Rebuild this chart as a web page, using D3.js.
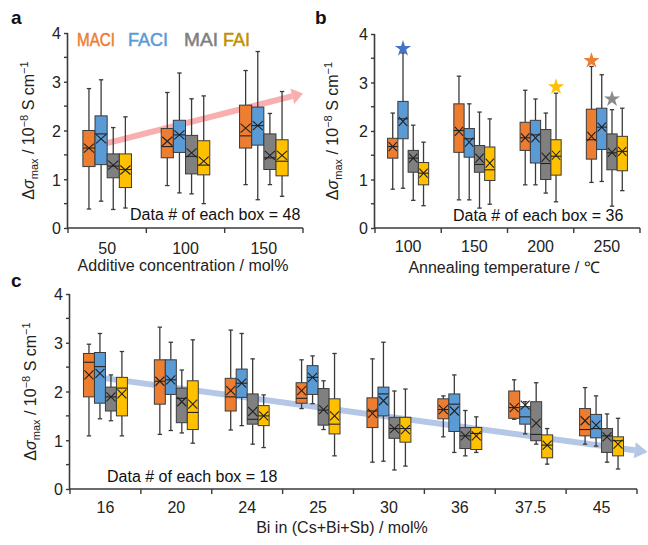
<!DOCTYPE html>
<html><head><meta charset="utf-8">
<script src="https://cdn.jsdelivr.net/npm/d3@7"></script>
<style>
html,body{margin:0;padding:0;background:#fff;}
svg{display:block;font-family:"Liberation Sans",Arial,sans-serif;}
</style></head>
<body>
<svg id="chart" width="648" height="545"></svg>
<script>
// ---------------- DATA ----------------
const seriesNames = ["MACI", "FACI", "MAI", "FAI"];
// each entry: [min, q1, median, q3, max, mean]
const catsA = ["50", "100", "150"];
const a_MACI = [[0.39,1.26,1.64,2.00,2.86,1.64],[0.87,1.44,1.67,2.04,2.78,1.78],[0.89,1.64,1.89,2.52,3.23,2.05]];
const a_FACI = [[0.55,1.30,1.93,2.30,3.04,1.83],[0.72,1.55,1.91,2.21,3.18,1.91],[0.58,1.70,2.10,2.48,3.62,2.10]];
const a_MAI  = [[0.38,1.03,1.27,1.52,2.06,1.29],[0.70,1.11,1.47,1.90,2.65,1.54],[0.89,1.20,1.44,1.93,2.35,1.49]];
const a_FAI  = [[0.41,0.83,1.20,1.52,2.28,1.19],[0.50,1.09,1.29,1.79,2.71,1.37],[0.65,1.07,1.37,1.81,2.80,1.49]];

const catsB = ["100", "150", "200", "250"];
const b_MACI = [[0.80,1.44,1.68,1.85,2.37,1.68],[0.58,1.56,2.01,2.56,3.13,1.99],[0.89,1.60,1.86,2.18,2.84,1.86],[0.94,1.42,1.82,2.45,3.33,1.89]];
const b_FACI = [[0.82,1.84,2.25,2.61,3.61,2.20],[0.58,1.46,1.84,2.05,2.56,1.77],[0.89,1.34,1.92,2.22,2.66,1.86],[0.96,1.62,2.08,2.47,3.16,2.08]];
const b_MAI  = [[0.57,1.15,1.44,1.60,2.12,1.44],[0.41,1.15,1.31,1.70,2.39,1.44],[0.72,1.00,1.33,2.03,2.37,1.46],[0.45,1.20,1.55,1.94,2.44,1.56]];
const b_FAI  = [[0.46,0.89,1.13,1.35,1.77,1.13],[0.49,0.98,1.20,1.67,2.25,1.34],[0.54,1.09,1.48,1.82,2.78,1.50],[0.77,1.18,1.58,1.89,2.47,1.58]];
// stars in panel b: [category index, series index, value]
const b_stars = [[0,1,3.72],[3,0,3.47],[2,3,2.93],[3,2,2.68]];

const catsC = ["16", "20", "24", "25", "30", "36", "37.5", "45"];
const c_MACI = [[1.09,1.89,2.60,2.78,2.97,2.34],[1.12,1.74,2.21,2.65,3.32,2.21],[1.21,1.60,1.89,2.27,3.26,2.02],[1.65,1.76,1.86,2.18,2.65,2.02],[0.55,1.26,1.60,1.87,2.67,1.55],[1.07,1.44,1.63,1.85,1.91,1.63],[1.43,1.45,1.67,2.01,2.24,1.67],[0.92,1.09,1.22,1.65,2.08,1.40]];
const c_FACI = [[1.44,1.76,2.51,2.80,3.19,2.37],[1.20,1.94,2.24,2.65,3.01,2.24],[1.30,1.88,2.17,2.46,3.19,2.17],[1.75,1.94,2.29,2.53,2.73,2.29],[0.57,1.50,1.95,2.09,3.01,1.81],[0.75,1.18,1.74,1.95,2.34,1.60],[1.13,1.33,1.48,1.69,1.79,1.72],[0.88,1.05,1.24,1.53,1.91,1.31]];
const c_MAI  = [[1.40,1.60,1.89,2.09,2.34,1.89],[1.15,1.36,1.86,2.07,2.44,1.79],[0.92,1.33,1.43,1.95,2.67,1.59],[1.22,1.31,1.62,2.06,2.22,1.63],[0.39,1.04,1.24,1.47,2.01,1.24],[0.68,0.83,1.09,1.26,1.61,1.09],[0.92,0.99,1.12,1.79,2.18,1.35],[0.55,0.75,1.09,1.24,1.54,1.07]];
const c_FAI  = [[1.09,1.50,2.07,2.29,2.82,1.95],[0.94,1.22,1.57,2.22,3.06,1.74],[0.85,1.30,1.50,1.71,1.93,1.50],[0.68,1.13,1.33,1.85,2.78,1.50],[0.47,0.96,1.24,1.47,2.05,1.22],[0.75,0.81,1.14,1.26,1.48,1.09],[0.51,0.64,0.90,1.11,1.24,0.90],[0.41,0.68,0.99,1.07,1.45,0.92]];

const yTicks = [0, 1, 2, 3, 4];
// trend arrows: [xStart (in category units), yStart, xEnd, yEnd]
const arrowA = [0.45, 1.72, 3.0, 2.76];
const arrowC = [0.46, 2.28, 8.15, 0.76];

// ---------------- STYLE ----------------
const fillColors = ["#ed7d31", "#5b9bd5", "#808080", "#ffc000"];
const legendColors = ["#ed7d31", "#5b9bd5", "#7f7f7f", "#bf9000"];
const starColors = ["#ed7d31", "#4472c4", "#8a8a8a", "#ffc000"];
const ink = "#3a3a3a";

const svg = d3.select("#chart");

function panel(cfg) {
  const g = svg.append("g");
  const n = cfg.cats.length;
  const x = d3.scaleBand().domain(cfg.cats).range([cfg.left, cfg.right]).padding(0);
  const xc = d3.scaleLinear().domain([0, n]).range([cfg.left, cfg.right]);
  const y = d3.scaleLinear().domain([0, 4]).range([cfg.bottom, cfg.top]);
  const bw = x.bandwidth() * 0.155;

  // arrow (behind boxes)
  if (cfg.arrow) {
    const [x0, y0, x1, y1] = cfg.arrow;
    const px0 = xc(x0), py0 = y(y0), px1 = xc(x1), py1 = y(y1);
    const ang = Math.atan2(py1 - py0, px1 - px0);
    const hl = cfg.arrowHead, hw = cfg.arrowHeadW;
    const bx = px1 - hl * Math.cos(ang), by = py1 - hl * Math.sin(ang);
    g.append("line").attr("x1", px0).attr("y1", py0).attr("x2", bx).attr("y2", by)
      .attr("stroke", cfg.arrowColor).attr("stroke-width", cfg.arrowW);
    const nx = -Math.sin(ang), ny = Math.cos(ang);
    g.append("path").attr("d", `M${px1},${py1}L${bx + nx * hw},${by + ny * hw}L${bx - nx * hw},${by - ny * hw}Z`)
      .attr("fill", cfg.arrowColor);
  }

  // y axis
  const yAxis = d3.axisLeft(y).tickValues(yTicks).tickSize(4).tickFormat(d3.format("d"));
  const ya = g.append("g").attr("transform", `translate(${cfg.left},0)`).call(yAxis);
  ya.select(".domain").attr("d", `M-0.5,${cfg.top}V${cfg.bottom}`).attr("stroke", ink).attr("stroke-width", 1.6);
  ya.selectAll(".tick line").attr("stroke", ink).attr("stroke-width", 1.4);
  ya.selectAll(".tick text").attr("font-size", 16).attr("fill", "#222").attr("x", -7).attr("dy", "0.36em");
  // minor ticks
  g.selectAll(".minor").data([0.5, 1.5, 2.5, 3.5]).enter().append("line")
    .attr("x1", cfg.left - 4).attr("x2", cfg.left).attr("y1", d => y(d)).attr("y2", d => y(d))
    .attr("stroke", ink).attr("stroke-width", 1.4);

  // x axis
  g.append("line").attr("x1", cfg.left - 1).attr("x2", cfg.right).attr("y1", cfg.bottom).attr("y2", cfg.bottom)
    .attr("stroke", ink).attr("stroke-width", 1.6);
  g.selectAll(".xt").data(d3.range(n + 1)).enter().append("line")
    .attr("x1", d => xc(d)).attr("x2", d => xc(d)).attr("y1", cfg.bottom).attr("y2", cfg.bottom + 5)
    .attr("stroke", ink).attr("stroke-width", 1.4);
  g.selectAll(".xl").data(cfg.cats).enter().append("text")
    .attr("x", d => x(d) + x.bandwidth() / 2).attr("y", cfg.bottom + cfg.tickLabelDy)
    .attr("text-anchor", "middle").attr("font-size", 16).attr("fill", "#222").text(d => d);

  // boxes
  cfg.series.forEach((arr, si) => {
    const gs = g.append("g");
    arr.forEach((v, ci) => {
      const [mn, q1, md, q3, mx, mean] = v;
      const cx = x(cfg.cats[ci]) + x.bandwidth() / 2 + (si - 1.5) * bw;
      const l = cx - bw / 2, r = cx + bw / 2;
      // whiskers
      gs.append("line").attr("x1", cx).attr("x2", cx).attr("y1", y(mx)).attr("y2", y(q3)).attr("stroke", ink).attr("stroke-width", 1.3);
      gs.append("line").attr("x1", cx).attr("x2", cx).attr("y1", y(q1)).attr("y2", y(mn)).attr("stroke", ink).attr("stroke-width", 1.3);
      [mn, mx].forEach(val => gs.append("line").attr("x1", cx - 2.2).attr("x2", cx + 2.2)
        .attr("y1", y(val)).attr("y2", y(val)).attr("stroke", ink).attr("stroke-width", 1.3));
      gs.append("rect").attr("x", l).attr("y", y(q3)).attr("width", bw).attr("height", y(q1) - y(q3))
        .attr("fill", fillColors[si]).attr("stroke", ink).attr("stroke-width", 1);
      gs.append("line").attr("x1", l).attr("x2", r).attr("y1", y(md)).attr("y2", y(md)).attr("stroke", "#222").attr("stroke-width", 1.1);
      const hx = bw / 2 - 1, hy = 4.5, my = y(mean);
      gs.append("path").attr("d", `M${cx - hx},${my - hy}L${cx + hx},${my + hy}M${cx - hx},${my + hy}L${cx + hx},${my - hy}`)
        .attr("stroke", "#222").attr("stroke-width", 1.1).attr("fill", "none");
    });
  });

  // stars
  if (cfg.stars) {
    cfg.stars.forEach(([ci, si, val]) => {
      const cx = x(cfg.cats[ci]) + x.bandwidth() / 2 + (si - 1.5) * bw;
      g.append("path").attr("d", d3.symbol(d3.symbolStar, 82)())
        .attr("transform", `translate(${cx},${y(val) + 1})`).attr("fill", starColors[si]);
    });
  }

  // data count text
  g.append("text").attr("x", cfg.noteX).attr("y", cfg.noteY).attr("font-size", 16).attr("fill", "#111")
    .text(cfg.note);

  // x title
  g.append("text").attr("x", cfg.xtX).attr("y", cfg.xtY).attr("text-anchor", "middle")
    .attr("font-size", 16).attr("fill", "#222").text(cfg.xtitle);

  // y title
  const yt = g.append("text").attr("transform", `translate(${cfg.ytX},${(cfg.top + cfg.bottom) / 2}) rotate(-90)`)
    .attr("text-anchor", "middle").attr("font-size", 16).attr("fill", "#222");
  yt.append("tspan").text("Δ");
  yt.append("tspan").attr("font-style", "italic").text("σ");
  yt.append("tspan").attr("font-size", 11).attr("dy", 4).text("max");
  yt.append("tspan").attr("dy", -4).text(" / 10");
  yt.append("tspan").attr("font-size", 11).attr("dy", -6).text("−8");
  yt.append("tspan").attr("dy", 6).text(" S cm");
  yt.append("tspan").attr("font-size", 11).attr("dy", -6).text("−1");

  // panel letter
  svg.append("text").attr("x", cfg.letterX).attr("y", cfg.letterY).attr("font-size", 19).attr("font-weight", "bold")
    .attr("fill", "#111").text(cfg.letter);
}

panel({ cats: catsA, series: [a_MACI, a_FACI, a_MAI, a_FAI], left: 68, right: 303, top: 33, bottom: 228,
  tickLabelDy: 26, arrow: arrowA, arrowColor: "#f9aeb0", arrowW: 6, arrowHead: 11, arrowHeadW: 8,
  note: "Data # of each box = 48", noteX: 130, noteY: 220,
  xtitle: "Additive concentration / mol%", xtX: 183, xtY: 271, ytX: 34, letter: "a", letterX: 11, letterY: 24 });

panel({ cats: catsB, series: [b_MACI, b_FACI, b_MAI, b_FAI], left: 375, right: 640, top: 34, bottom: 228,
  tickLabelDy: 24, stars: b_stars,
  note: "Data # of each box = 36", noteX: 453, noteY: 221,
  xtitle: "Annealing temperature / ℃", xtX: 504, xtY: 273, ytX: 338, letter: "b", letterX: 315, letterY: 24 });

panel({ cats: catsC, series: [c_MACI, c_FACI, c_MAI, c_FAI], left: 70, right: 637, top: 294, bottom: 489,
  tickLabelDy: 24, arrow: arrowC, arrowColor: "#b4c7e7", arrowW: 6, arrowHead: 13, arrowHeadW: 8,
  note: "Data # of each box = 18", noteX: 107, noteY: 482,
  xtitle: "Bi in (Cs+Bi+Sb) / mol%", xtX: 342, xtY: 533, ytX: 36, letter: "c", letterX: 11, letterY: 287 });

// legend (panel a)
const legX = [77, 128, 184, 223];
const legW = [38, 40, 34, 27];
svg.append("g").selectAll("text").data(seriesNames).enter().append("text")
  .attr("x", (d, i) => legX[i]).attr("y", 46).attr("font-size", 18)
  .attr("textLength", (d, i) => legW[i]).attr("lengthAdjust", "spacingAndGlyphs")
  .attr("fill", (d, i) => legendColors[i]).attr("stroke", (d, i) => legendColors[i]).attr("stroke-width", 0.5)
  .text(d => d);
</script>
</body></html>
